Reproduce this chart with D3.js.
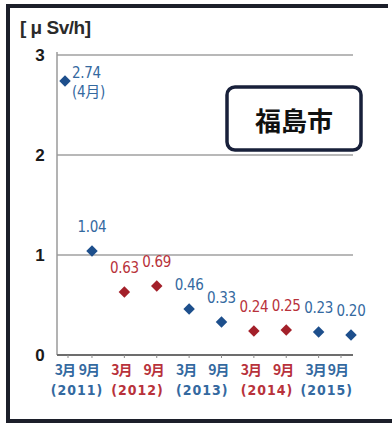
<!DOCTYPE html>
<html>
<head>
<meta charset="utf-8">
<script src="https://cdn.jsdelivr.net/npm/d3@7"></script>
<style>
  html, body { margin: 0; padding: 0; background: #fff; }
  svg { display: block; }
</style>
</head>
<body>
<svg id="chart" width="392" height="425"></svg>
<script>
// Air dose rate in Fukushima City (μSv/h), measured each March and September
const periods = ["2011-04", "2011-09", "2012-03", "2012-09", "2013-03", "2013-09", "2014-03", "2014-09", "2015-03", "2015-09"];
const values = [2.74, 1.04, 0.63, 0.69, 0.46, 0.33, 0.24, 0.25, 0.23, 0.20];
const valueLabels = ["2.74", "1.04", "0.63", "0.69", "0.46", "0.33", "0.24", "0.25", "0.23", "0.20"];
const years = [2011, 2012, 2013, 2014, 2015];
const monthTicks = [3, 9];
const monthTickLabels = ["3月", "9月"];
const yTicks = [0, 1, 2, 3];
const unitLabel = "[ μ Sv/h]";
const cityLabel = "福島市";
const firstNote = "(4月)";

const W = 392, H = 425;
const plot = { left: 57, right: 353, top: 55, bottom: 355 };
const numFont = "'DejaVu Sans Condensed', 'Liberation Sans Narrow', 'Noto Sans CJK JP', sans-serif";
const cjkFont = "'Noto Sans CJK JP', sans-serif";

const blueMark = "#1d4f8c", redMark = "#a3202a";
const blueText = "#34699f", redText = "#b8323b";
const colorOf = (year, kind) => (year % 2 === 1) ? (kind === "mark" ? blueMark : blueText)
                                                  : (kind === "mark" ? redMark : redText);

// month index counted from January 2011
const monthIndex = s => { const [y, m] = s.split("-").map(Number); return (y - 2011) * 12 + m; };

const svg = d3.select("#chart");

// outer frame: left, top and bottom edges
svg.append("path")
  .attr("d", `M 388 6 H 8 V 421 H 392`)
  .attr("fill", "none")
  .attr("stroke", "#1c1f2a")
  .attr("stroke-width", 4);

const x = d3.scaleLinear()
  .domain([monthIndex(periods[0]), monthIndex(periods[periods.length - 1])])
  .range([65, 351]);
const y = d3.scaleLinear().domain([0, 3]).range([plot.bottom, plot.top]);

// horizontal gridlines
svg.append("g")
  .selectAll("line")
  .data(yTicks.filter(t => t > 0))
  .join("line")
  .attr("x1", plot.left).attr("x2", plot.right)
  .attr("y1", d => y(d)).attr("y2", d => y(d))
  .attr("stroke", "#a0a0a0")
  .attr("stroke-width", 1.5);

// y axis line
svg.append("line")
  .attr("x1", plot.left).attr("x2", plot.left)
  .attr("y1", plot.top - 3).attr("y2", plot.bottom)
  .attr("stroke", "#9a9a9a").attr("stroke-width", 1.5);

// x axis line
svg.append("line")
  .attr("x1", plot.left).attr("x2", plot.right)
  .attr("y1", plot.bottom).attr("y2", plot.bottom)
  .attr("stroke", "#6d6d6d").attr("stroke-width", 2);

// y tick labels
svg.append("g")
  .selectAll("text")
  .data(yTicks)
  .join("text")
  .attr("x", 40)
  .attr("y", d => y(d) + 2)
  .attr("text-anchor", "middle")
  .attr("dominant-baseline", "middle")
  .attr("font-family", "'Liberation Sans', Arial, sans-serif")
  .attr("font-weight", "bold")
  .attr("font-size", 17)
  .attr("fill", "#1a1a1a")
  .text(d => d);

// unit label
svg.append("text")
  .attr("x", 20).attr("y", 34)
  .attr("font-family", "'Liberation Sans', 'Noto Sans CJK JP', sans-serif")
  .attr("font-weight", "bold")
  .attr("font-size", 19)
  .attr("letter-spacing", -0.5)
  .attr("fill", "#2a2a2a")
  .text(unitLabel);

// x tick labels: month row and year row
const tickRows = [];
years.forEach(yr => {
  const xs = monthTicks.map(m => {
    const px = x((yr - 2011) * 12 + m) - 3;
    return Math.min(Math.max(px, 65), 338);
  });
  monthTicks.forEach((m, i) => tickRows.push({ year: yr, label: monthTickLabels[i], x: xs[i] }));
  tickRows.push({ year: yr, label: `(${yr})`, x: d3.mean(xs), isYear: true });
});

// small tick marks on the x axis
svg.append("g")
  .selectAll("line")
  .data(tickRows.filter(d => !d.isYear))
  .join("line")
  .attr("x1", d => d.x + 3).attr("x2", d => d.x + 3)
  .attr("y1", plot.bottom).attr("y2", plot.bottom + 3)
  .attr("stroke", "#8a8a8a").attr("stroke-width", 1);

svg.append("g")
  .selectAll("text")
  .data(tickRows)
  .join("text")
  .attr("x", d => d.x)
  .attr("y", d => d.isYear ? 395 : 375)
  .attr("text-anchor", "middle")
  .attr("font-family", d => d.isYear ? numFont : cjkFont)
  .attr("font-weight", "bold")
  .attr("font-size", 14)
  .attr("letter-spacing", d => d.isYear ? 1 : -1)
  .attr("fill", d => colorOf(d.year, "text"))
  .text(d => d.label);

// data points
const pts = periods.map((p, i) => ({
  period: p,
  year: +p.slice(0, 4),
  value: values[i],
  label: valueLabels[i],
  cx: x(monthIndex(p)),
  cy: y(values[i])
}));

svg.append("g")
  .selectAll("path")
  .data(pts)
  .join("path")
  .attr("d", d3.symbol(d3.symbolSquare, 66))
  .attr("transform", d => `translate(${d.cx},${d.cy}) rotate(45)`)
  .attr("fill", d => colorOf(d.year, "mark"));

// value labels
svg.append("g")
  .selectAll("text")
  .data(pts)
  .join("text")
  .attr("x", (d, i) => i === 0 ? d.cx + 7 : d.cx)
  .attr("y", (d, i) => i === 0 ? d.cy - 3 : d.cy - 19)
  .attr("text-anchor", (d, i) => i === 0 ? "start" : "middle")
  .attr("font-family", numFont)
  .attr("font-size", 15)
  .attr("letter-spacing", -0.3)
  .attr("fill", d => colorOf(d.year, "text"))
  .text(d => d.label);

// note under the first value
svg.append("text")
  .attr("x", pts[0].cx + 7)
  .attr("y", pts[0].cy + 16)
  .attr("font-family", numFont)
  .attr("font-size", 15)
  .attr("letter-spacing", -0.3)
  .attr("fill", blueText)
  .text(firstNote);

// city name box
const box = svg.append("g");
box.append("rect")
  .attr("x", 227).attr("y", 87)
  .attr("width", 134).attr("height", 63)
  .attr("rx", 8)
  .attr("fill", "#fff")
  .attr("stroke", "#18203a")
  .attr("stroke-width", 3.5);
box.append("text")
  .attr("x", 294).attr("y", 119)
  .attr("text-anchor", "middle")
  .attr("dominant-baseline", "central")
  .attr("font-family", cjkFont)
  .attr("font-weight", "bold")
  .attr("font-size", 26)
  .attr("fill", "#111")
  .text(cityLabel);
</script>
</body>
</html>
